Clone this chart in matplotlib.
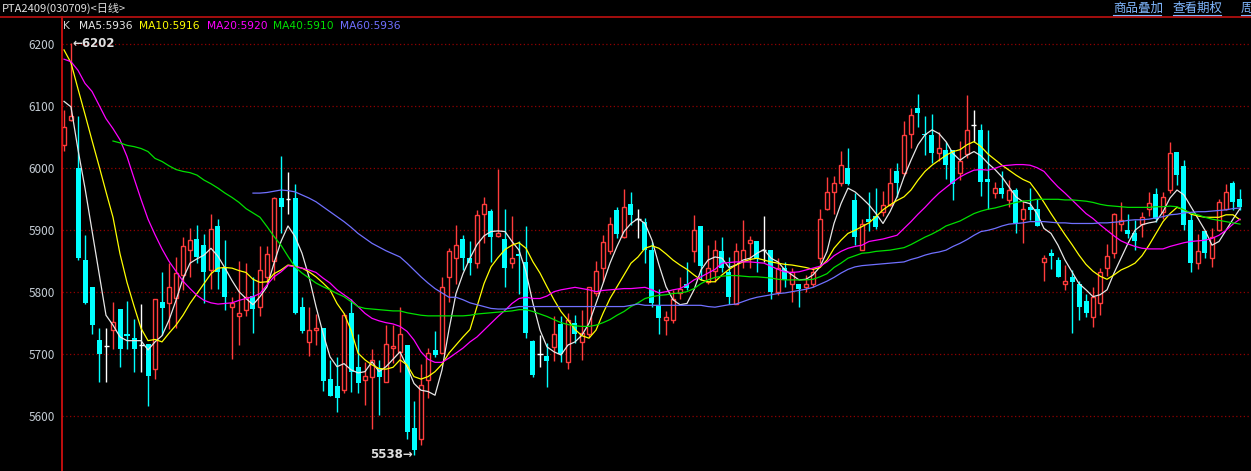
import numpy as np
import matplotlib
matplotlib.use("Agg")
import matplotlib.pyplot as plt
from matplotlib.lines import Line2D

plt.rcParams['font.family'] = ['Noto Sans CJK SC', 'DejaVu Sans']

# daily candles, PTA2409
opens = [6037, 6078, 6000, 5852, 5809, 5723, 5713, 5740, 5773, 5733,
         5726, 5715, 5717, 5676, 5784, 5782, 5791, 5828, 5869, 5886,
         5876, 5836, 5907, 5840, 5776, 5762, 5772, 5794, 5776, 5825,
         5851, 5952, 5950, 5952, 5776, 5720, 5739, 5742, 5660, 5649,
         5642, 5767, 5679, 5659, 5664, 5678, 5655, 5710, 5704, 5715,
         5581, 5563, 5658, 5707, 5702, 5825, 5856, 5886, 5856, 5847,
         5926, 5931, 5891, 5886, 5848, 5861, 5849, 5721, 5700, 5697,
         5711, 5749, 5688, 5751, 5720, 5733, 5799, 5840, 5866, 5932,
         5890, 5942, 5919, 5914, 5869, 5779, 5755, 5756, 5799, 5814,
         5866, 5907, 5817, 5835, 5866, 5832, 5781, 5851, 5880, 5882,
         5869, 5869, 5801, 5840, 5813, 5813, 5809, 5813, 5855, 5934,
         5961, 5977, 6000, 5949, 5869, 5919, 5923, 5930, 5941, 5996,
         5993, 6055, 6097, 6056, 6054, 6025, 6030, 6030, 5992, 6023,
         6070, 6062, 5983, 5960, 5968, 5949, 5965, 5918, 5937, 5934,
         5849, 5864, 5852, 5814, 5825, 5813, 5786, 5760, 5782, 5839,
         5864, 5910, 5900, 5895, 5910, 5934, 5959, 5930, 5965, 6026,
         6004, 5917, 5848, 5899, 5855, 5900, 5935, 5977, 5950]
highs = [6094, 6202, 6084, 5892, 5809, 5743, 5743, 5784, 5773, 5786,
         5757, 5781, 5717, 5790, 5832, 5847, 5857, 5890, 5903, 5909,
         5894, 5926, 5919, 5884, 5793, 5850, 5847, 5825, 5875, 5874,
         5954, 6020, 5994, 5975, 5793, 5776, 5765, 5742, 5691, 5696,
         5767, 5789, 5733, 5688, 5709, 5691, 5747, 5748, 5776, 5715,
         5625, 5685, 5710, 5737, 5824, 5871, 5909, 5892, 5882, 5933,
         5954, 5935, 5999, 5934, 5923, 5882, 5907, 5723, 5731, 5719,
         5761, 5761, 5766, 5764, 5771, 5809, 5851, 5892, 5922, 5938,
         5966, 5961, 5934, 5920, 5881, 5806, 5770, 5804, 5824, 5849,
         5925, 5907, 5876, 5885, 5889, 5857, 5879, 5917, 5891, 5882,
         5923, 5869, 5856, 5849, 5839, 5813, 5828, 5840, 5934, 5986,
         5988, 6028, 6032, 5960, 5918, 5962, 5969, 5963, 6000, 6009,
         6076, 6097, 6120, 6084, 6088, 6059, 6043, 6030, 6044, 6118,
         6094, 6071, 6061, 5978, 5995, 5981, 5968, 5949, 5969, 5950,
         5860, 5870, 5857, 5844, 5836, 5819, 5798, 5809, 5840, 5878,
         5928, 5945, 5926, 5917, 5930, 5962, 5968, 5962, 6042, 6026,
         6014, 5926, 5894, 5899, 5903, 5950, 5975, 5980, 5966]
lows = [6028, 6076, 5852, 5781, 5732, 5656, 5656, 5708, 5679, 5708,
        5671, 5671, 5617, 5660, 5731, 5741, 5742, 5804, 5825, 5847,
        5783, 5806, 5806, 5771, 5692, 5715, 5762, 5734, 5762, 5814,
        5820, 5895, 5927, 5765, 5734, 5698, 5715, 5641, 5632, 5607,
        5637, 5640, 5638, 5618, 5579, 5602, 5655, 5686, 5672, 5564,
        5538, 5554, 5629, 5696, 5702, 5785, 5814, 5836, 5828, 5840,
        5880, 5849, 5889, 5809, 5839, 5798, 5726, 5663, 5680, 5647,
        5689, 5688, 5676, 5719, 5691, 5728, 5794, 5817, 5862, 5887,
        5887, 5909, 5887, 5847, 5777, 5732, 5731, 5750, 5789, 5804,
        5849, 5820, 5814, 5817, 5833, 5781, 5781, 5839, 5839, 5832,
        5849, 5789, 5796, 5808, 5785, 5777, 5801, 5809, 5848, 5933,
        5927, 5971, 5973, 5876, 5868, 5899, 5902, 5923, 5939, 5954,
        5987, 6032, 6067, 6021, 6009, 6011, 5982, 5949, 5981, 6016,
        6043, 5955, 5934, 5952, 5952, 5938, 5895, 5880, 5917, 5907,
        5819, 5837, 5824, 5804, 5734, 5755, 5760, 5744, 5763, 5826,
        5856, 5899, 5887, 5869, 5890, 5923, 5914, 5918, 5960, 5973,
        5900, 5832, 5837, 5856, 5841, 5899, 5933, 5932, 5933]
closes = [6067, 6084, 5856, 5783, 5748, 5701, 5713, 5752, 5709, 5730,
          5708, 5715, 5665, 5790, 5774, 5808, 5831, 5875, 5885, 5857,
          5832, 5902, 5832, 5792, 5782, 5767, 5793, 5773, 5836, 5861,
          5952, 5937, 5950, 5767, 5738, 5739, 5742, 5657, 5632, 5630,
          5763, 5671, 5653, 5665, 5691, 5663, 5716, 5714, 5733, 5574,
          5545, 5650, 5702, 5699, 5808, 5866, 5877, 5856, 5847, 5925,
          5942, 5889, 5895, 5839, 5856, 5859, 5734, 5667, 5700, 5690,
          5733, 5700, 5755, 5733, 5734, 5809, 5834, 5881, 5910, 5894,
          5937, 5924, 5919, 5868, 5782, 5758, 5760, 5790, 5805, 5807,
          5900, 5842, 5840, 5869, 5840, 5793, 5866, 5869, 5884, 5855,
          5869, 5801, 5839, 5820, 5832, 5806, 5814, 5832, 5919, 5961,
          5977, 6006, 5975, 5889, 5910, 5914, 5906, 5941, 5976, 5977,
          6054, 6086, 6090, 6054, 6025, 6032, 6005, 5975, 6012, 6062,
          6070, 5978, 5978, 5969, 5959, 5965, 5911, 5935, 5933, 5907,
          5855, 5858, 5825, 5819, 5816, 5776, 5766, 5792, 5833, 5859,
          5926, 5917, 5894, 5883, 5922, 5944, 5918, 5953, 6024, 5989,
          5909, 5848, 5867, 5864, 5889, 5945, 5961, 5945, 5937]

nan = float('nan')
ma5 = [6108, 6099, 6030, 5968, 5900, 5833, 5763, 5747, 5728, 5722,
       5722, 5722, 5707, 5720, 5730, 5755, 5787, 5822, 5847, 5854,
       5860, 5871, 5858, 5839, 5819, 5801, 5790, 5780,
       5793, 5809, 5847, 5882, 5907, 5890, 5863, 5825, 5777, 5734,
       5696, 5680, 5685, 5675, 5670, 5672, 5688, 5672, 5680, 5692,
       5704, 5680, 5653, 5642, 5640, 5634, 5675, 5740,
       5798, 5830, 5855, 5877, 5891, 5898, 5899, 5898, 5882, 5868,
       5833, 5782, 5739, 5712, 5704, 5699, 5715, 5720, 5731, 5750,
       5782, 5814, 5847, 5874, 5898, 5911, 5919,
       5911, 5884, 5844, 5809, 5788, 5780, 5782, 5804, 5836, 5852,
       5857, 5855, 5840, 5844, 5852, 5855, 5863, 5869, 5855, 5849,
       5836, 5828, 5820, 5821, 5828, 5841, 5866,
       5911, 5943, 5968, 5962, 5952, 5941, 5927, 5911, 5930, 5954,
       5986, 6013, 6038, 6054, 6062, 6056, 6043, 6024, 6013, 6021,
       6027, 6020, 6008, 5998, 5986, 5970, 5954, 5946,
       5943, 5927, 5903, 5895, 5876, 5852, 5833, 5814, 5804, 5793,
       5796, 5804, 5831, 5855, 5879, 5900, 5909, 5912, 5914, 5930,
       5952, 5965, 5957, 5938, 5919, 5900, 5876, 5882, 5900, 5918,
       5935]
ma10 = [6191, 6170, 6128, 6087, 6045, 6004, 5962, 5921, 5862, 5816,
        5778, 5742, 5722, 5724, 5720, 5734, 5747, 5763, 5782, 5798,
        5814, 5830, 5839, 5840, 5839, 5835, 5832, 5821,
        5816, 5817, 5830, 5836, 5844, 5842, 5839, 5833, 5825, 5815,
        5804, 5782, 5766, 5739, 5702, 5691, 5683, 5677, 5676, 5679,
        5691, 5683, 5664, 5660, 5664, 5672, 5684, 5702,
        5715, 5728, 5740, 5777, 5814, 5841, 5856, 5869, 5876, 5880,
        5871, 5849, 5831, 5809, 5788, 5769, 5755, 5740, 5730, 5726,
        5739, 5766, 5790, 5809, 5828, 5847, 5857,
        5871, 5875, 5871, 5862, 5852, 5844, 5837, 5828, 5820, 5817,
        5817, 5828, 5837, 5844, 5849, 5853, 5855, 5852, 5849, 5847,
        5845, 5844, 5842, 5840, 5837, 5840, 5852,
        5871, 5884, 5895, 5900, 5906, 5912, 5922, 5933, 5941, 5948,
        5954, 5965, 5981, 5995, 6005, 6013, 6021, 6027, 6030, 6038,
        6043, 6035, 6023, 6014, 6005, 5997, 5989, 5982, 5977,
        5962, 5945, 5927, 5910, 5893, 5877, 5860, 5845, 5834, 5826,
        5821, 5828, 5836, 5841, 5847, 5859, 5876, 5895, 5914, 5927,
        5937, 5933, 5926, 5923, 5921, 5921, 5921, 5925, 5925, 5917]
ma20 = [6176, 6172, 6158, 6137, 6124, 6102, 6080, 6064, 6046, 6019,
        5984, 5950, 5918, 5893, 5870, 5850, 5834, 5818, 5806, 5795,
        5787, 5783, 5781, 5782, 5783, 5787, 5790, 5793,
        5798, 5812, 5825, 5833, 5843, 5841, 5839, 5836, 5832, 5823,
        5815, 5804, 5796, 5788, 5777, 5766, 5758, 5754, 5751, 5749,
        5745, 5737, 5723, 5704, 5692, 5687, 5687, 5694,
        5702, 5710, 5720, 5728, 5739, 5750, 5761, 5771, 5782, 5790,
        5792, 5790, 5790, 5794, 5801, 5804, 5806, 5808, 5806, 5804,
        5801, 5803, 5804, 5805, 5806, 5806, 5807,
        5808, 5804, 5799, 5801, 5804, 5806, 5812, 5820, 5825, 5831,
        5837, 5847, 5848, 5849, 5849, 5849, 5848, 5847, 5842, 5837,
        5833, 5832, 5833, 5836, 5839, 5842, 5849,
        5859, 5866, 5871, 5874, 5876, 5882, 5884, 5886, 5889, 5892,
        5903, 5914, 5926, 5937, 5949, 5960, 5969, 5978, 5986, 5992,
        5997, 5998, 5997, 6000, 6004, 6005, 6006,
        6006, 6005, 6001, 5995, 5982, 5970, 5960, 5949, 5938, 5927,
        5919, 5909, 5900, 5891, 5883, 5878, 5874, 5871, 5870, 5870,
        5870, 5874, 5877, 5880, 5882, 5883, 5884, 5887, 5892, 5900,
        5910, 5918]
ma40 = [nan] * 7 + [
        6044, 6041, 6037, 6035, 6032, 6027, 6016, 6011, 6004, 5998,
        5995, 5993, 5989, 5981, 5975, 5968, 5960, 5953, 5945, 5935,
        5928,
        5921, 5906, 5890, 5876, 5858, 5841, 5831, 5823, 5815, 5809,
        5804, 5798, 5793, 5785, 5777, 5774, 5773, 5772, 5771, 5770,
        5770, 5767, 5765, 5763, 5762, 5762, 5762, 5762,
        5762, 5762, 5763, 5765, 5766, 5767, 5768, 5769, 5770, 5772,
        5772, 5769, 5765, 5761, 5756, 5751, 5748, 5746, 5745, 5745,
        5747, 5751, 5756, 5763, 5769, 5777, 5783,
        5790, 5793, 5795, 5796, 5798, 5799, 5801, 5806, 5814, 5820,
        5824, 5826, 5827, 5827, 5826, 5825, 5825, 5824, 5823, 5821,
        5820, 5820, 5820, 5820, 5821, 5825, 5830,
        5840, 5847, 5855, 5859, 5863, 5864, 5866, 5867, 5868, 5870,
        5872, 5877, 5883, 5889, 5894, 5900, 5907, 5911, 5915, 5921,
        5927, 5931, 5934, 5936, 5939, 5942, 5945, 5947, 5948,
        5950, 5950, 5950, 5950, 5949, 5949, 5948, 5947, 5945, 5942,
        5940, 5939, 5938, 5937, 5937, 5937, 5937, 5938, 5938, 5939,
        5938, 5933, 5928, 5925, 5921, 5918, 5916, 5914, 5912, 5910]
ma60 = [nan] * 27 + [
        5960, 5960, 5961, 5963, 5965, 5964, 5962, 5957, 5952, 5946,
        5938, 5930, 5922, 5914, 5905, 5895, 5887, 5879, 5873, 5867,
        5862, 5857, 5847, 5836, 5825, 5815, 5806, 5799, 5792,
        5792, 5788, 5783, 5780, 5777, 5774, 5773, 5773, 5775, 5777] + [5777] * 15 + [
        5779, 5781] + [5779] * 9 + [
        5777, 5776, 5778, 5780, 5781, 5785, 5789, 5792, 5794, 5796,
        5798, 5799, 5801, 5803, 5805, 5808, 5813, 5818,
        5824, 5831, 5837, 5841, 5843, 5844, 5845, 5846, 5847, 5848,
        5849, 5853, 5856, 5860, 5863, 5865, 5868, 5874, 5879, 5885,
        5892, 5898, 5900, 5903, 5907, 5910, 5911, 5912, 5914,
        5914, 5914, 5913, 5912, 5912, 5911, 5911, 5911, 5911, 5912,
        5912, 5913, 5914, 5916, 5917, 5917, 5918, 5920, 5922, 5925,
        5926, 5928, 5929, 5930, 5930, 5931, 5932, 5933, 5935, 5936]

ma_names = ["MA5", "MA10", "MA20", "MA40", "MA60"]
ma_last = [5936, 5916, 5920, 5910, 5936]
price_ticks = [5600, 5700, 5800, 5900, 6000, 6100, 6200]

for arr in (opens, highs, lows, closes, ma5, ma10, ma20, ma40, ma60):
    assert len(arr) == 169, len(arr)

W, H = 1251, 471
fig = plt.figure(figsize=(W / 100, H / 100), dpi=100, facecolor='black')
ax = fig.add_axes([62 / W, 0, (W - 62) / W, (H - 17) / H])
ax.set_facecolor('black')


def py2price(y):
    return 6200 - (y - 44.3) / 0.62


ax.set_xlim(-2 / 7, -2 / 7 + (W - 62) / 7)
ax.set_ylim(py2price(H), py2price(17))

up_c = '#ff3c3c'
dn_c = '#00ffff'
x = np.arange(len(closes))
o = np.array(opens); c = np.array(closes)
h = np.array(highs); l = np.array(lows)
up = c > o
dn = c < o
flat = c == o
bw = 5 / 7

for p in price_ticks:
    ax.axhline(p, color='#900000', lw=0.9, ls=(0, (1, 2)), zorder=0)

ax.vlines(x[up], l[up], h[up], color=up_c, lw=1, zorder=1)
ax.vlines(x[dn], l[dn], h[dn], color=dn_c, lw=1, zorder=1)
ax.vlines(x[flat], l[flat], h[flat], color='white', lw=1, zorder=1)
ax.bar(x[up], (c - o)[up], bottom=o[up], width=bw - 0.14, facecolor='black',
       edgecolor=up_c, lw=1, zorder=2)
ax.bar(x[dn], (o - c)[dn], bottom=c[dn], width=bw, facecolor=dn_c,
       edgecolor=dn_c, lw=0, zorder=2)
ax.hlines(c[flat], x[flat] - bw / 2, x[flat] + bw / 2, color='white', lw=1, zorder=2)

ma_colors = ['#e6e6e6', '#ffff00', '#ff00ff', '#00e000', '#7070ff']
for arr, col in zip([ma5, ma10, ma20, ma40, ma60], ma_colors):
    ax.plot(x, arr, color=col, lw=0.9, zorder=3)

for s in ['top', 'right', 'bottom']:
    ax.spines[s].set_visible(False)
ax.spines['left'].set_color('#e01010')
ax.spines['left'].set_linewidth(1.2)
ax.set_xticks([])
ax.set_yticks(price_ticks)
ax.set_yticklabels([str(p) for p in price_ticks])
ax.tick_params(axis='y', length=0, pad=5, labelcolor='#c4ccd4', labelsize=8.5)

# extreme labels
ax.text(1.15, 6202, "\u21906202", color='#e0e0e0', fontsize=8.5, fontweight='bold',
        ha='left', va='center', family=['DejaVu Sans'], zorder=5)
ax.text(49.85, 5538, "5538\u2192", color='#e0e0e0', fontsize=8.5, fontweight='bold',
        ha='right', va='center', family=['DejaVu Sans'], zorder=5)

# header
fig.add_artist(Line2D([0, 1], [1 - 16.5 / H, 1 - 16.5 / H], color='#c01010', lw=1.2))
fig.text(2 / W, 1 - 8 / H, "PTA2409(030709)<日线>", color='#e0e0e0', fontsize=8,
         ha='left', va='center')
for label, x0, x1 in [("商品叠加", 1113, 1161), ("查看期权", 1173, 1221), ("周", 1241, 1253)]:
    fig.text(x0 / W, 1 - 8 / H, label, color='#80b8ff', fontsize=9, ha='left', va='center')
    fig.add_artist(Line2D([x0 / W, x1 / W], [1 - 14.5 / H, 1 - 14.5 / H], color='#80b8ff', lw=0.8))

# MA legend row
fig.text(63 / W, 1 - 26 / H, "K", color='#d0d0d0', fontsize=7.7, ha='left', va='center',
         family=['DejaVu Sans'])
for name, val, col, px in zip(ma_names, ma_last, ma_colors, [79, 139, 207, 273, 340]):
    fig.text(px / W, 1 - 26 / H, f"{name}:{val}", color=col, fontsize=7.7,
             ha='left', va='center', family=['DejaVu Sans'])

fig.savefig("out.png", dpi=100, facecolor='black')
